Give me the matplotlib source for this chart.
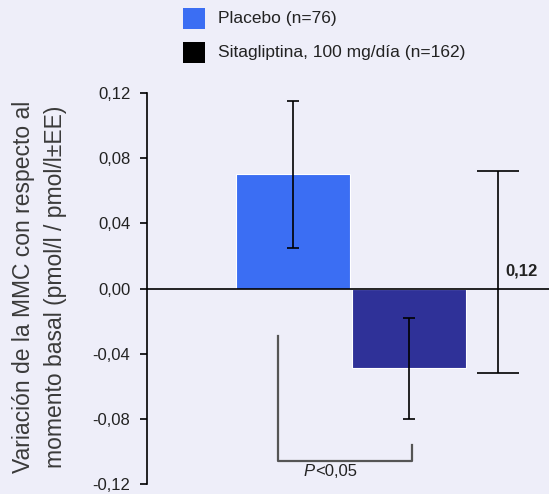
import matplotlib
matplotlib.use("Agg")
import matplotlib.pyplot as plt
from matplotlib.patches import Rectangle

plt.rcParams["font.family"] = ["Liberation Sans", "DejaVu Sans"]

# --- data -------------------------------------------------------------------
groups = ["Placebo (n=76)", "Sitagliptina, 100 mg/día (n=162)"]
means = [0.070, -0.049]
errors = [0.045, 0.031]
bar_colors = ["#3b6ef3", "#2f3198"]
legend_colors = ["#3b6ef3", "#000000"]

diff_center = 0.010
diff_error = 0.062
diff_label = "0,12"
p_label = "<0,05"

yticks = [-0.12, -0.08, -0.04, 0.0, 0.04, 0.08, 0.12]
ytick_labels = ["-0,12", "-0,08", "-0,04", "0,00", "0,04", "0,08", "0,12"]
ylabel = "Variación de la MMC con respecto al\nmomento basal (pmol/l / pmol/l±EE)"

bg = "#eeeef9"

# --- figure -----------------------------------------------------------------
fig = plt.figure(figsize=(5.49, 4.94), dpi=100, facecolor=bg)
ax = fig.add_axes([147 / 549, 10 / 494, 402 / 549, 391 / 494], facecolor=bg)

xpos = [0, 1]
ax.bar(xpos, means, width=0.98, color=bar_colors, edgecolor="white", linewidth=0.8, zorder=2)
ax.errorbar(xpos, means, yerr=errors, fmt="none", ecolor="black", elinewidth=1.2,
            capsize=4.3, capthick=1.2, zorder=3)

# difference error bar
ax.errorbar([1.77], [diff_center], yerr=[diff_error], fmt="none", ecolor="black",
            elinewidth=1.2, capsize=15, capthick=1.2, zorder=3)
ax.text(1.83, 0.006, diff_label, fontsize=12, fontweight="bold", color="#222222",
        ha="left", va="bottom")

# zero line
ax.axhline(0, color="black", linewidth=1.2, zorder=4)

# significance bracket
ax.plot([-0.13, -0.13, 1.03, 1.03], [-0.029, -0.106, -0.106, -0.096],
        color="#555555", linewidth=1.6, zorder=3)
ax.text(0.09, -0.1075, "P", fontsize=12, style="italic", color="#222222", ha="left", va="top")
ax.text(0.19, -0.1075, p_label, fontsize=12, color="#222222", ha="left", va="top")

ax.set_xlim(-1.26, 2.21)
ax.set_ylim(-0.12, 0.12)
ax.set_yticks(yticks)
ax.set_yticklabels(ytick_labels, fontsize=12, color="#222222")
ax.set_xticks([])
for s in ["top", "right", "bottom"]:
    ax.spines[s].set_visible(False)
ax.spines["left"].set_linewidth(1.2)
ax.tick_params(axis="y", length=5, width=1.2, pad=7)

fig.text(0.072, 0.42, ylabel, rotation=90, fontsize=16.5, color="#3a3a3a",
         ha="center", va="center", linespacing=1.45)

# legend
for i, (lab, col) in enumerate(zip(groups, legend_colors)):
    ytop = 8 + i * 34
    fig.patches.append(Rectangle((183 / 549, 1 - (ytop + 21) / 494), 22 / 549, 21 / 494,
                                 transform=fig.transFigure, facecolor=col, edgecolor="none"))
    fig.text(218 / 549, 1 - (ytop + 11) / 494, lab, fontsize=12.5, color="#222222",
             ha="left", va="center")

fig.savefig("out.png", dpi=100, facecolor=bg)
